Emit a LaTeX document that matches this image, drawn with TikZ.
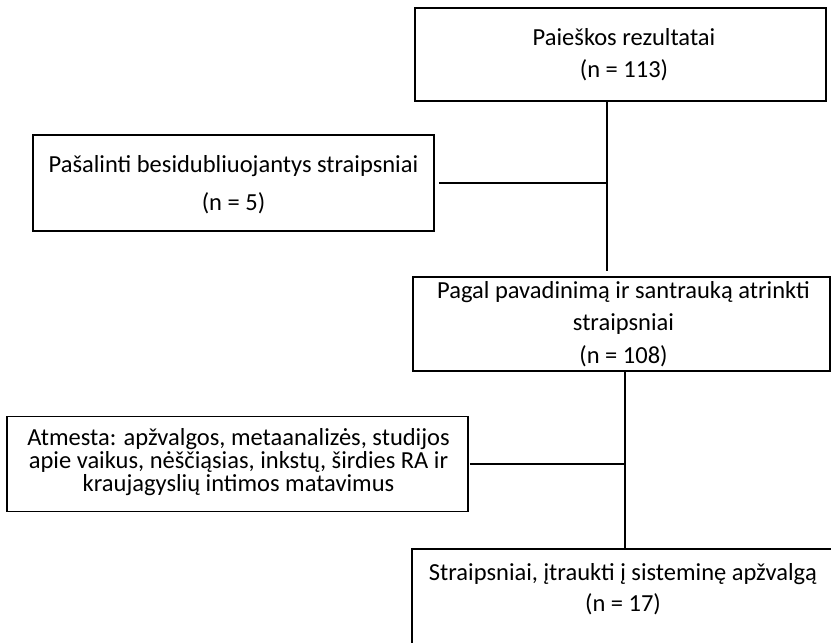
\documentclass[tikz,border=0pt]{standalone}
\usepackage{fontspec}
\setmainfont{Carlito}
\begin{document}
\begin{tikzpicture}[x=1pt,y=-1pt,
  box/.style={draw=black, line width=1.9pt, rectangle, inner sep=0pt},
  txt/.style={anchor=base, inner sep=0pt, font=\fontsize{24.5pt}{29pt}\selectfont},
  conn/.style={line width=1.8pt}]
\useasboundingbox (0,0) rectangle (831,643);
% boxes
\node[box, minimum width=411pt, minimum height=93pt] (b1) at (620.5,54.5) {};
\node[box, minimum width=401pt, minimum height=96pt] (b2) at (233.5,183) {};
\node[box, minimum width=417pt, minimum height=94pt] (b3) at (621.5,324) {};
\node[box, minimum width=461pt, minimum height=95pt] (b4) at (237.5,464) {};
\node[box, minimum width=424pt, minimum height=120pt] (b5) at (624,609) {};
% texts
\node[txt] (t1a) at (624,45) {Paieškos rezultatai};
\node[txt] (t1b) at (624,77) {(n = 113)};
\node[txt] (t2a) at (233.5,172) {Pašalinti besidubliuojantys straipsniai};
\node[txt] (t2b) at (233.5,210) {(n = 5)};
\node[txt] (t3a) at (623.5,298) {Pagal pavadinimą ir santrauką atrinkti};
\node[txt] (t3b) at (623.5,330) {straipsniai};
\node[txt] (t3c) at (623.5,363) {(n = 108)};
\node[txt] (t4a) at (238.5,445) {Atmesta: apžvalgos, metaanalizės, studijos};
\node[txt] (t4b) at (238.5,468) {apie vaikus, nėščiąsias, inkstų, širdies RA ir};
\node[txt] (t4c) at (238.5,491) {kraujagyslių intimos matavimus};
\node[txt] (t5a) at (623,580) {Straipsniai, įtraukti į sisteminę apžvalgą};
\node[txt] (t5b) at (623,611) {(n = 17)};
% connectors
\coordinate (j1) at (607,183);
\coordinate (j2) at (625,464);
\draw[conn] (b1.south -| j1) -- ([yshift=5pt]b3.north -| j1);
\draw[conn] ([xshift=4pt]b2.east) -- (j1);
\draw[conn] (b3.south -| j2) -- (b5.north -| j2);
\draw[conn] ([xshift=1pt]b4.east) -- (b4.east -| j2);
\end{tikzpicture}
\end{document}
